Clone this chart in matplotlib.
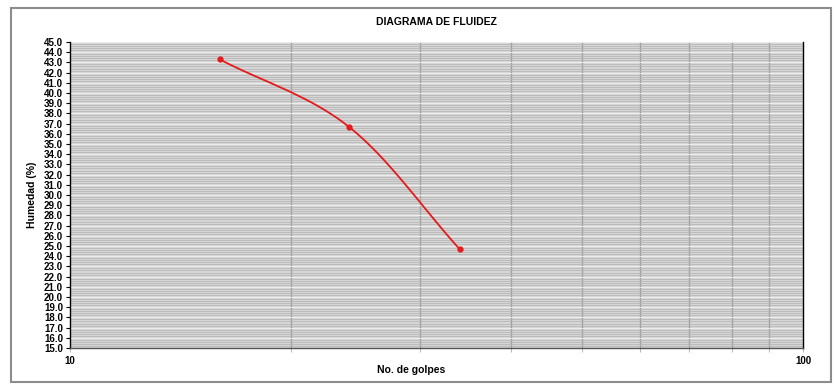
import numpy as np
import matplotlib
matplotlib.use("Agg")
import matplotlib.pyplot as plt
from matplotlib.ticker import FixedLocator, MultipleLocator, FormatStrFormatter, NullFormatter
from matplotlib.patches import Rectangle

plt.rcParams['font.family'] = ['Liberation Sans', 'DejaVu Sans']

# Flow curve data: number of blows vs. moisture content
golpes = [16, 24, 34]
humedad = [43.3, 36.7, 24.7]

title = "DIAGRAMA DE FLUIDEZ"
xlabel = "No. de golpes"
ylabel = "Humedad (%)"
x_ticklabels = ["10", "100"]


def catmull_rom(xs, ys, n=60):
    """Smooth curve through the points (Excel-style smoothed line)."""
    P = np.column_stack([xs, ys]).astype(float)
    P = np.vstack([P[0] - (P[1] - P[0]), P, P[-1] + (P[-1] - P[-2])])
    out = []
    for i in range(1, len(P) - 2):
        p0, p1, p2, p3 = P[i - 1], P[i], P[i + 1], P[i + 2]
        t = np.linspace(0, 1, n)[:, None]
        seg = 0.5 * ((2 * p1) + (-p0 + p2) * t + (2 * p0 - 5 * p1 + 4 * p2 - p3) * t ** 2
                     + (-p0 + 3 * p1 - 3 * p2 + p3) * t ** 3)
        out.append(seg)
    c = np.vstack(out)
    return c[:, 0], c[:, 1]


fig = plt.figure(figsize=(8.35, 3.85), dpi=100)
fig.patches.append(Rectangle((0.013, 0.008), 0.982, 0.972, transform=fig.transFigure,
                             fill=False, edgecolor='#8c8c8c', linewidth=1.5))

ax = fig.add_axes([70 / 835, 1 - 348 / 385, 733 / 835, 306 / 385])
ax.set_xscale('log')
ax.set_xlim(10, 100)
ax.set_ylim(15, 45)
ax.set_facecolor('#d6d6d6')

# dense horizontal grid
ax.yaxis.set_major_locator(MultipleLocator(1))
ax.yaxis.set_minor_locator(MultipleLocator(0.2))
ax.yaxis.set_major_formatter(FormatStrFormatter('%.1f'))
ax.grid(True, which='minor', axis='y', color='#b8b8b8', linewidth=0.6)
ax.grid(True, which='major', axis='y', color='#f2f2f2', linewidth=0.6)

# vertical log grid
ax.xaxis.set_major_locator(FixedLocator([10, 100]))
ax.set_xticklabels(x_ticklabels)
ax.xaxis.set_minor_locator(FixedLocator([20, 30, 40, 50, 60, 70, 80, 90]))
ax.xaxis.set_minor_formatter(NullFormatter())
ax.grid(True, which='minor', axis='x', color='#999999', linewidth=1.0)
ax.set_axisbelow(True)

lx, ly = catmull_rom(np.log10(golpes), humedad)
ax.plot(10 ** lx, ly, color='#e41a1c', linewidth=1.3, zorder=3)
ax.plot(golpes, humedad, 'o', color='#e41a1c', markersize=3.5, zorder=4)

for s in ['left', 'bottom', 'right']:
    ax.spines[s].set_color('black')
    ax.spines[s].set_linewidth(1.0)
ax.spines['bottom'].set_color('#555555')
ax.spines['top'].set_visible(False)

ax.tick_params(axis='y', which='major', length=3, width=0.8, labelsize=7, pad=2)
ax.tick_params(axis='y', which='minor', length=0)
ax.tick_params(axis='x', which='both', length=3, width=0.6, color='#aaaaaa', labelsize=7, pad=3)
for lab in ax.get_yticklabels() + ax.get_xticklabels():
    lab.set_fontweight('bold')

ax.set_title(title, fontsize=7.5, fontweight='bold', pad=12)
ax.set_xlabel(xlabel, fontsize=7.5, fontweight='bold')
ax.xaxis.set_label_coords(0.466, -0.055)
ax.set_ylabel(ylabel, fontsize=7.5, fontweight='bold', labelpad=5)

fig.savefig('out.png', dpi=100)
